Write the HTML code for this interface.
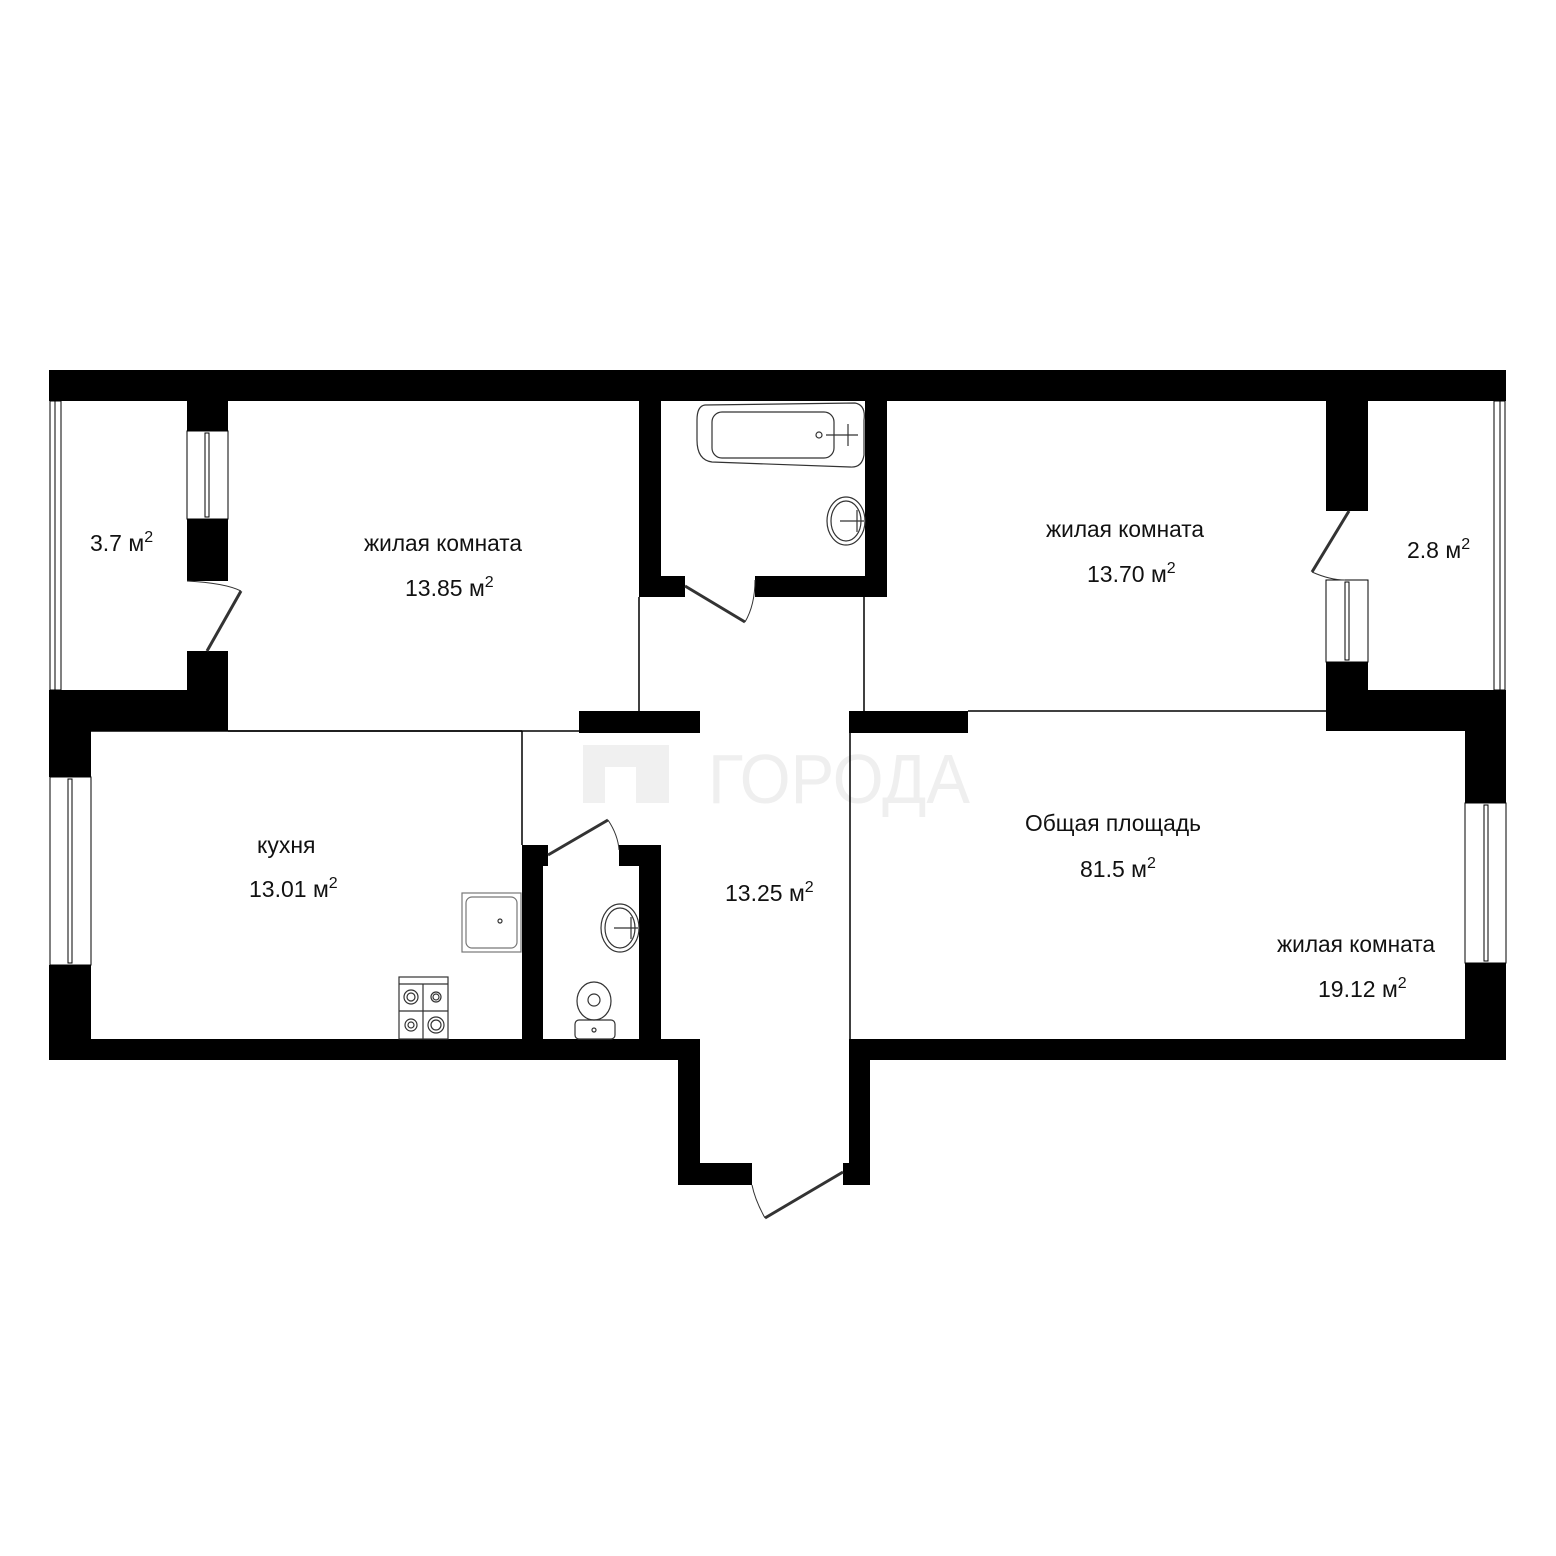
<!DOCTYPE html>
<html><head><meta charset="utf-8"><style>html,body{margin:0;padding:0;background:#fff}svg{display:block}</style></head><body>
<svg width="1556" height="1556" viewBox="0 0 1556 1556" xmlns="http://www.w3.org/2000/svg" font-family="Liberation Sans, sans-serif">
<rect width="1556" height="1556" fill="#fff"/>
<g fill="#f0f0f0">
<rect x="583" y="745" width="22" height="58"/><rect x="583" y="745" width="86" height="22"/><rect x="636" y="760" width="33" height="43"/>
<text x="708" y="803" font-size="70" fill="#efefef" textLength="262" lengthAdjust="spacingAndGlyphs">ГОРОДА</text>
</g>
<g fill="#000">
<rect x="49" y="370" width="1457" height="31"/>
<rect x="187" y="401" width="41" height="30"/><rect x="187" y="519" width="41" height="62"/><rect x="187" y="651" width="41" height="80"/>
<rect x="49" y="690" width="179" height="41"/>
<rect x="49" y="690" width="42" height="87"/><rect x="49" y="965" width="42" height="94"/>
<rect x="49" y="1039" width="651" height="21"/>
<rect x="639" y="401" width="22" height="196"/><rect x="865" y="401" width="22" height="196"/>
<rect x="639" y="576" width="46" height="21"/><rect x="755" y="576" width="132" height="21"/>
<rect x="579" y="711" width="121" height="22"/><rect x="849" y="711" width="119" height="22"/>
<rect x="522" y="845" width="21" height="194"/><rect x="522" y="845" width="26" height="21"/>
<rect x="639" y="845" width="22" height="194"/><rect x="619" y="845" width="42" height="21"/>
<rect x="678" y="1039" width="22" height="146"/><rect x="678" y="1163" width="74" height="22"/>
<rect x="849" y="1039" width="21" height="146"/><rect x="843" y="1163" width="27" height="22"/>
<rect x="849" y="1039" width="657" height="21"/>
<rect x="1326" y="401" width="42" height="110"/><rect x="1326" y="662" width="42" height="69"/>
<rect x="1326" y="690" width="180" height="41"/>
<rect x="1465" y="690" width="41" height="113"/><rect x="1465" y="963" width="41" height="96"/>
</g>
<g stroke="#000" stroke-width="1.5" fill="none">
<line x1="91" y1="731" x2="522" y2="731"/><line x1="228" y1="731" x2="579" y2="731"/>
<line x1="522" y1="731" x2="522" y2="845"/>
<line x1="639" y1="597" x2="639" y2="711"/><line x1="864" y1="597" x2="864" y2="711"/>
<line x1="968" y1="711" x2="1326" y2="711"/>
<line x1="850" y1="733" x2="850" y2="1039"/>
<rect x="50" y="401" width="11" height="289" stroke-width="1"/><line x1="55" y1="401" x2="55" y2="690" stroke-width="1"/>
<rect x="187" y="431" width="41" height="88" stroke-width="1"/><rect x="205" y="433" width="4" height="84" stroke-width="1"/>
<rect x="50" y="777" width="41" height="188" stroke-width="1"/><rect x="68" y="779" width="4" height="184" stroke-width="1"/>
<rect x="1326" y="580" width="42" height="82" stroke-width="1"/><rect x="1345" y="582" width="4" height="78" stroke-width="1"/>
<rect x="1494" y="401" width="11" height="289" stroke-width="1"/><line x1="1500" y1="401" x2="1500" y2="690" stroke-width="1"/>
<rect x="1465" y="803" width="41" height="160" stroke-width="1"/><rect x="1484" y="805" width="4" height="156" stroke-width="1"/>
</g>
<g stroke="#333" fill="none">
<line x1="207" y1="651" x2="241" y2="591" stroke-width="3"/><path d="M187 581 Q225 583 241 591" stroke-width="1"/>
<line x1="685" y1="586" x2="745" y2="622" stroke-width="3"/><path d="M745 622 Q755 605 755 580" stroke-width="1"/>
<line x1="548" y1="855" x2="608" y2="820" stroke-width="3"/><path d="M608 820 Q618 835 619 850" stroke-width="1"/>
<line x1="843" y1="1172" x2="765" y2="1218" stroke-width="3"/><path d="M765 1218 Q755 1200 752 1185" stroke-width="1"/>
<line x1="1349" y1="511" x2="1312" y2="572" stroke-width="3"/><path d="M1312 572 Q1330 580 1345 580" stroke-width="1"/>
</g>
<g stroke="#333" fill="none" stroke-width="1.2">
<path d="M705 405 L855 403 Q866 405 864 420 L864 455 Q862 468 850 467 L712 462 Q697 460 697 440 L697 420 Q697 406 705 405 Z"/>
<rect x="712" y="412" width="122" height="46" rx="10"/>
<circle cx="819" cy="435" r="3"/><line x1="826" y1="435" x2="858" y2="435"/><line x1="848" y1="424" x2="848" y2="446"/>
<ellipse cx="846" cy="521" rx="19" ry="24"/><ellipse cx="846" cy="521" rx="15" ry="20"/><line x1="840" y1="521" x2="864" y2="521"/><line x1="857" y1="510" x2="857" y2="532"/>
<ellipse cx="620" cy="928" rx="19" ry="24"/><ellipse cx="620" cy="928" rx="15" ry="20"/><line x1="614" y1="928" x2="638" y2="928"/><line x1="631" y1="917" x2="631" y2="939"/>
<rect x="462" y="893" width="59" height="59" stroke="#777"/><rect x="466" y="897" width="51" height="51" rx="6" stroke="#777"/><circle cx="500" cy="921" r="2"/>
<rect x="399" y="977" width="49" height="62"/><line x1="399" y1="984" x2="448" y2="984"/><line x1="423" y1="984" x2="423" y2="1039"/><line x1="399" y1="1011" x2="448" y2="1011"/>
<circle cx="411" cy="997" r="7"/><circle cx="411" cy="997" r="4"/><circle cx="436" cy="997" r="5"/><circle cx="436" cy="997" r="3"/>
<circle cx="411" cy="1025" r="6"/><circle cx="411" cy="1025" r="3"/><circle cx="436" cy="1025" r="8"/><circle cx="436" cy="1025" r="5"/>
<ellipse cx="594" cy="1001" rx="17" ry="19"/><ellipse cx="594" cy="1000" rx="6" ry="6"/>
<rect x="575" y="1020" width="40" height="19" rx="4"/><circle cx="594" cy="1030" r="2"/>
</g>
<g font-size="23" fill="#111">
<text x="90" y="551">3.7 м<tspan font-size="16" dy="-9">2</tspan></text>
<text x="364" y="551" textLength="158" lengthAdjust="spacingAndGlyphs">жилая комната</text>
<text x="405" y="596">13.85 м<tspan font-size="16" dy="-9">2</tspan></text>
<text x="1046" y="537" textLength="158" lengthAdjust="spacingAndGlyphs">жилая комната</text>
<text x="1087" y="582">13.70 м<tspan font-size="16" dy="-9">2</tspan></text>
<text x="1407" y="558">2.8 м<tspan font-size="16" dy="-9">2</tspan></text>
<text x="257" y="853">кухня</text>
<text x="249" y="897">13.01 м<tspan font-size="16" dy="-9">2</tspan></text>
<text x="725" y="901">13.25 м<tspan font-size="16" dy="-9">2</tspan></text>
<text x="1025" y="831" textLength="176" lengthAdjust="spacingAndGlyphs">Общая площадь</text>
<text x="1080" y="877">81.5 м<tspan font-size="16" dy="-9">2</tspan></text>
<text x="1277" y="952" textLength="158" lengthAdjust="spacingAndGlyphs">жилая комната</text>
<text x="1318" y="997">19.12 м<tspan font-size="16" dy="-9">2</tspan></text>
</g>
</svg>
</body></html>
